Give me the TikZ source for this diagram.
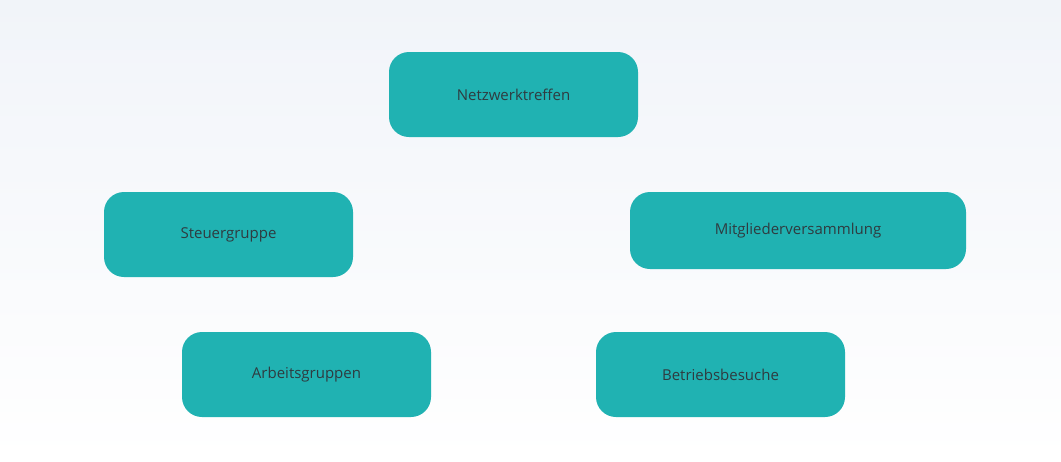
\documentclass[tikz,border=0pt]{standalone}
\usepackage{fontspec}
\setmainfont{Open Sans}
\definecolor{teal1}{HTML}{20B2B2}
\definecolor{txt}{HTML}{2F3B40}
\definecolor{bgtop}{HTML}{F1F4F9}
\begin{document}
\begin{tikzpicture}[x=1pt,y=-1pt,
  box/.style={fill=teal1,rounded corners=20pt,text=txt,font=\fontsize{15}{18}\selectfont,inner sep=0pt,align=center}]
\shade[top color=bgtop,bottom color=white] (0,0) rectangle (1061,461);
\useasboundingbox (0,0) rectangle (1061,461);
\node[box,minimum width=249pt,minimum height=85pt] (n) at (513.5,94.5) {Netzwerktreffen};
\node[box,minimum width=249pt,minimum height=85pt] (s) at (228.5,234.5) {Steuergruppe};
\node[box,minimum width=336pt,minimum height=77pt] (m) at (798,230.5) {Mitgliederversammlung};
\node[box,minimum width=249pt,minimum height=85pt] (a) at (306.5,374.5) {Arbeitsgruppen};
\node[box,minimum width=249pt,minimum height=85pt] (b) at (720.5,374.5) {Betriebsbesuche};
\end{tikzpicture}
\end{document}
